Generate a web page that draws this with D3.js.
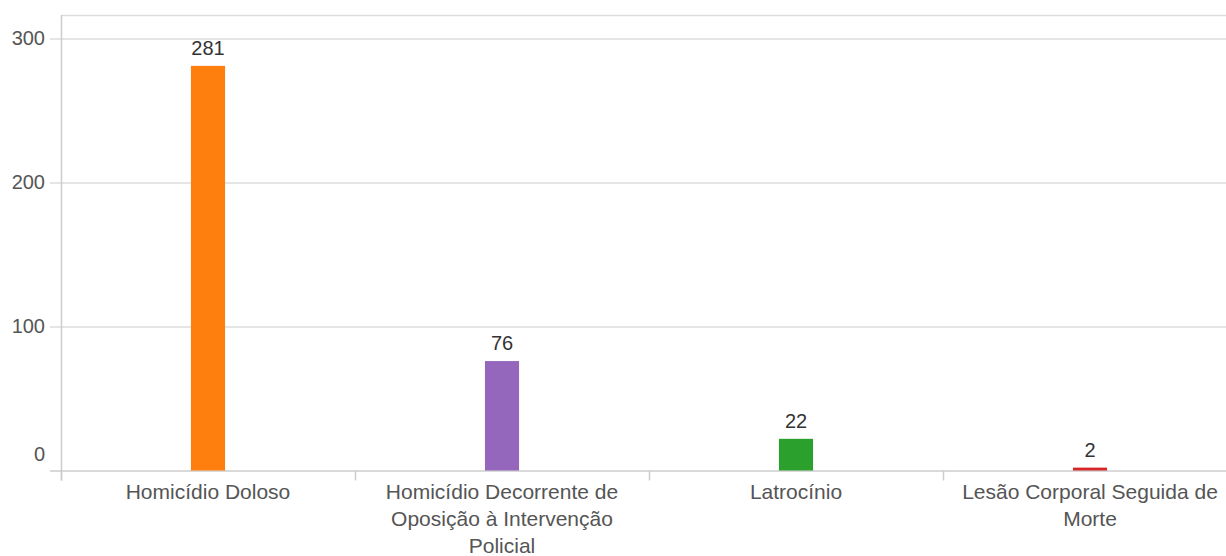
<!DOCTYPE html>
<html>
<head>
<meta charset="utf-8">
<script src="https://cdn.jsdelivr.net/npm/d3@7"></script>
<style>
  html, body { margin: 0; padding: 0; background: #fff; overflow: hidden; }
  svg { display: block; font-family: "Liberation Sans", Arial, sans-serif; }
</style>
</head>
<body>
<svg id="chart" width="1226" height="556"></svg>
<script>
// Ocorrências por tipo de crime
const categories = [
  "Homicídio Doloso",
  "Homicídio Decorrente de Oposição à Intervenção Policial",
  "Latrocínio",
  "Lesão Corporal Seguida de Morte"
];
const values = [281, 76, 22, 2];
const colors = ["#ff7f0e", "#9467bd", "#2ca02c", "#d62728"];
const yTicks = [0, 100, 200, 300];

const svg = d3.select("#chart");
const plotLeft = 61, plotRight = 1237, plotTop = 15, plotBottom = 470.5;

const xBand = d3.scaleBand().domain(categories).range([plotLeft, plotRight]);
const xBar = d3.scaleBand().domain(categories).range([plotLeft, plotRight])
  .paddingInner(0.884).paddingOuter(0.442);
const y = d3.scaleLinear().domain([0, 300]).range([plotBottom, 38.5]);

// frame line at the top of the plot
svg.append("line")
  .attr("x1", plotLeft).attr("x2", 1226).attr("y1", plotTop + 0.5).attr("y2", plotTop + 0.5)
  .attr("stroke", "#ddd").attr("stroke-width", 1.5);

// horizontal grid + y tick marks
const yAxis = d3.axisLeft(y).tickValues(yTicks).tickSize(-(1226 - 50)).tickFormat(d3.format("d"));
const gy = svg.append("g").attr("transform", `translate(${50},0)`).call(yAxis);
gy.select(".domain").remove();
gy.selectAll(".tick line")
  .attr("x1", 0).attr("x2", 1226 - 50)
  .attr("stroke", d => d === 0 ? "#ccc" : "#ddd").attr("stroke-width", 1.5);
gy.selectAll(".tick text")
  .attr("x", -5)
  .attr("dy", d => d === 0 ? "-0.5em" : "0.32em")
  .attr("fill", "#555")
  .style("font-size", "20px");

// vertical axis line
svg.append("line")
  .attr("x1", plotLeft + 0.5).attr("x2", plotLeft + 0.5).attr("y1", plotTop).attr("y2", plotBottom + 10)
  .attr("stroke", "#ccc").attr("stroke-width", 1.5);

// category boundary ticks
svg.selectAll(".bt").data(categories).enter().append("line")
  .attr("class", "bt")
  .attr("x1", d => xBand(d) + 0.5).attr("x2", d => xBand(d) + 0.5)
  .attr("y1", plotBottom).attr("y2", plotBottom + 10)
  .attr("stroke", "#ccc").attr("stroke-width", 1.5);

// bars
svg.selectAll(".bar").data(values).enter().append("rect")
  .attr("class", "bar")
  .attr("x", (d, i) => xBar(categories[i]))
  .attr("width", xBar.bandwidth())
  .attr("y", d => y(d))
  .attr("height", d => plotBottom - y(d))
  .attr("fill", (d, i) => colors[i]);

// value labels
svg.selectAll(".val").data(values).enter().append("text")
  .attr("class", "val")
  .attr("x", (d, i) => xBar(categories[i]) + xBar.bandwidth() / 2)
  .attr("y", d => y(d) - 11)
  .attr("text-anchor", "middle")
  .attr("fill", "#333")
  .style("font-size", "20px")
  .text(d => d);

// category labels, wrapped to the band width
const maxW = xBand.bandwidth() - 10;
categories.forEach(cat => {
  const t = svg.append("text")
    .attr("text-anchor", "middle")
    .attr("fill", "#555")
    .style("font-size", "21px");
  const cx = xBand(cat) + xBand.bandwidth() / 2;
  const words = cat.split(" ");
  let line = [], lineNo = 0;
  let tspan = t.append("tspan").attr("x", cx).attr("y", 499);
  words.forEach(w => {
    line.push(w);
    tspan.text(line.join(" "));
    if (tspan.node().getComputedTextLength() > maxW && line.length > 1) {
      line.pop();
      tspan.text(line.join(" "));
      line = [w];
      lineNo++;
      tspan = t.append("tspan").attr("x", cx).attr("y", 499 + lineNo * 27).text(w);
    }
  });
});
</script>
</body>
</html>
